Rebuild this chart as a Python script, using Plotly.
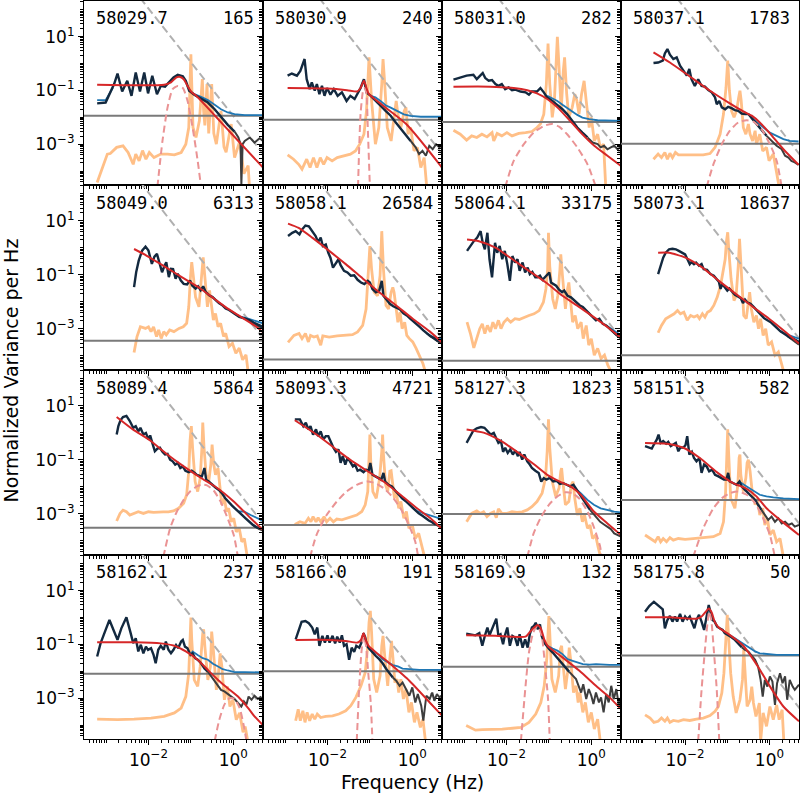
import plotly.graph_objects as go

# ---------------- data (log10 frequency [Hz], log10 normalized power) ----------------
LABEL_MJD = ["58029.7", "58030.9", "58031.0", "58037.1", "58049.0", "58058.1", "58064.1", "58073.1",
             "58089.4", "58093.3", "58127.3", "58151.3", "58162.1", "58166.0", "58169.9", "58175.8"]
LABEL_N = ["165", "240", "282", "1783", "6313", "26584", "33175", "18637",
           "5864", "4721", "1823", "582", "237", "191", "132", "50"]

NOISE_LOG = [-1.94, -2.09, -2.17, -2.98, -3.44, -4.13, -4.18, -3.97,
             -3.51, -3.41, -3.00, -2.48, -2.09, -2.00, -1.83, -1.41]

REF_LOGF = [-3.6, 0.8]
REF_LOGP = [5.25, -3.55]

NAVY = [
    [(-3.21,-1.48),(-3.01,-1.45),(-2.81,-0.76),(-2.73,-0.37),(-2.62,-1.04),(-2.50,-0.64),(-2.40,-1.20),(-2.30,-0.33),(-2.20,-1.04),(-2.10,-0.33),(-2.01,-1.11),(-1.91,-0.45),(-1.80,-1.14),(-1.71,-0.83),(-1.61,-0.86),(-1.51,-0.70),(-1.41,-0.52),(-1.31,-0.42),(-1.19,-0.47),(-1.12,-0.64),(-1.04,-1.01),(-0.92,-1.16),(-0.76,-1.29),(-0.60,-1.45),(-0.44,-1.70),(-0.29,-2.0),(-0.13,-2.28),(0.03,-2.53)],
    [(-2.94,-0.45),(-2.84,-0.37),(-2.72,-0.45),(-2.64,-0.27),(-2.54,0.17),(-2.49,-0.58),(-2.42,-0.95),(-2.37,-0.70),(-2.30,-1.01),(-2.25,-0.76),(-2.19,-1.14),(-2.13,-0.83),(-2.07,-1.20),(-2.01,-0.91),(-1.93,-1.16),(-1.85,-0.95),(-1.76,-1.20),(-1.66,-1.07),(-1.55,-1.39),(-1.46,-1.20),(-1.36,-1.32),(-1.28,-1.07),(-1.22,-0.91),(-1.14,-0.58),(-1.08,-1.07),(-0.98,-1.20),(-0.87,-1.39),(-0.75,-1.57),(-0.63,-1.76),(-0.51,-1.94),(-0.39,-2.19),(-0.27,-2.44),(-0.16,-2.63),(-0.04,-2.88)],
    [(-3.25,-0.60),(-3.09,-0.52),(-2.94,-0.45),(-2.78,-0.42),(-2.70,-0.58),(-2.62,-0.45),(-2.56,-0.35),(-2.50,-0.54),(-2.42,-0.64),(-2.34,-0.61),(-2.26,-0.76),(-2.19,-0.83),(-2.11,-0.76),(-2.03,-0.95),(-1.95,-0.89),(-1.87,-0.99),(-1.79,-0.97),(-1.67,-1.04),(-1.55,-1.07),(-1.47,-1.16),(-1.40,-1.04),(-1.28,-1.04),(-1.20,-0.91),(-1.12,-1.07),(-1.04,-1.26),(-0.92,-1.39),(-0.80,-1.53),(-0.68,-1.70),(-0.57,-1.88),(-0.45,-2.13),(-0.33,-2.38),(-0.21,-2.57),(-0.09,-2.75)],
    [(-2.75,0.02),(-2.64,0.04),(-2.53,0.11),(-2.48,0.38),(-2.42,0.54),(-2.36,0.33),(-2.28,0.17),(-2.20,0.23),(-2.12,-0.08),(-2.04,-0.27),(-1.96,-0.45),(-1.90,-0.20),(-1.85,-0.58),(-1.77,-0.83),(-1.69,-0.58),(-1.61,-0.83),(-1.53,-0.86),(-1.45,-0.99),(-1.37,-1.07),(-1.29,-1.26),(-1.25,-1.51),(-1.19,-1.39),(-1.13,-1.63),(-1.05,-1.70),(-0.98,-1.61),(-0.90,-1.66),(-0.82,-1.73),(-0.74,-1.76),(-0.66,-1.86),(-0.58,-1.88),(-0.50,-1.88),(-0.42,-2.03),(-0.31,-2.23),(-0.19,-2.44),(-0.07,-2.69)],
    [(-2.34,-1.45),(-2.29,-0.90),(-2.23,-0.47),(-2.15,-0.10),(-2.07,0.05),(-2.00,-0.10),(-1.92,-0.59),(-1.86,-0.32),(-1.80,-0.22),(-1.73,-0.59),(-1.68,-0.90),(-1.62,-0.65),(-1.58,-0.53),(-1.52,-1.08),(-1.47,-0.77),(-1.42,-0.78),(-1.36,-1.14),(-1.31,-0.96),(-1.24,-1.20),(-1.17,-1.33),(-1.09,-1.35),(-1.02,-1.20),(-0.97,-1.39),(-0.89,-1.51),(-0.83,-1.42),(-0.77,-1.57),(-0.71,-1.42),(-0.65,-1.63),(-0.57,-1.75),(-0.49,-1.82),(-0.42,-1.94),(-0.34,-2.04),(-0.26,-2.12),(-0.18,-2.24),(-0.10,-2.30),(0.02,-2.43),(0.14,-2.55),(0.26,-2.61),(0.38,-2.67),(0.49,-2.77),(0.61,-2.86),(0.70,-2.92)],
    [(-2.93,0.44),(-2.83,0.56),(-2.75,0.62),(-2.66,0.50),(-2.60,0.68),(-2.52,0.83),(-2.44,0.80),(-2.36,0.62),(-2.28,0.44),(-2.22,0.22),(-2.16,0.38),(-2.11,0.07),(-2.04,0.13),(-1.98,-0.18),(-1.93,-0.36),(-1.87,-0.73),(-1.81,-0.60),(-1.74,-0.42),(-1.69,-0.64),(-1.61,-0.85),(-1.53,-0.91),(-1.45,-1.03),(-1.37,-1.01),(-1.29,-1.18),(-1.21,-1.28),(-1.13,-1.34),(-1.05,-1.22),(-1.00,-1.28),(-0.94,-1.52),(-0.86,-1.64),(-0.78,-1.58),(-0.72,-1.22),(-0.68,-1.77),(-0.60,-1.95),(-0.53,-2.07),(-0.45,-2.16),(-0.37,-2.23),(-0.29,-2.28),(-0.21,-2.42),(-0.13,-2.50),(-0.05,-2.62),(0.03,-2.72),(0.11,-2.84),(0.18,-2.93),(0.26,-3.05),(0.34,-3.17),(0.42,-3.26),(0.50,-3.33),(0.58,-3.42),(0.70,-3.48)],
    [(-2.93,-0.11),(-2.85,0.07),(-2.77,0.25),(-2.69,0.38),(-2.61,0.62),(-2.56,0.19),(-2.51,-0.05),(-2.45,0.56),(-2.40,-0.42),(-2.34,-1.09),(-2.27,0.19),(-2.22,-0.18),(-2.16,0.07),(-2.10,-0.42),(-2.04,-0.11),(-1.98,-0.60),(-1.92,-1.22),(-1.86,-0.30),(-1.80,-0.54),(-1.74,-0.42),(-1.69,-0.85),(-1.62,-0.54),(-1.56,-0.91),(-1.50,-0.73),(-1.45,-0.97),(-1.39,-0.89),(-1.32,-1.09),(-1.27,-1.09),(-1.21,-1.03),(-1.15,-1.18),(-1.09,-1.09),(-1.03,-0.97),(-0.99,-0.91),(-0.95,-1.28),(-0.90,-1.34),(-0.83,-1.40),(-0.76,-1.55),(-0.69,-1.64),(-0.64,-1.58),(-0.56,-1.77),(-0.48,-1.83),(-0.40,-1.95),(-0.32,-2.07),(-0.27,-2.13),(-0.20,-2.19),(-0.12,-2.32),(-0.04,-2.44),(0.03,-2.56),(0.11,-2.68),(0.19,-2.62),(0.27,-2.81),(0.35,-2.87),(0.43,-2.99),(0.51,-3.11),(0.59,-3.21),(0.70,-3.30)],
    [(-2.64,-0.97),(-2.58,-0.66),(-2.52,-0.36),(-2.46,-0.18),(-2.38,-0.05),(-2.30,-0.03),(-2.22,-0.05),(-2.15,-0.11),(-2.07,-0.18),(-2.00,-0.24),(-1.95,-0.40),(-1.89,-0.60),(-1.85,-0.52),(-1.79,-0.60),(-1.74,-0.54),(-1.67,-0.66),(-1.61,-0.60),(-1.56,-0.79),(-1.48,-0.81),(-1.40,-0.97),(-1.32,-1.03),(-1.26,-1.15),(-1.20,-1.25),(-1.16,-1.52),(-1.12,-1.34),(-1.06,-1.46),(-1.00,-1.58),(-0.95,-1.50),(-0.88,-1.64),(-0.82,-1.74),(-0.76,-1.79),(-0.68,-1.86),(-0.63,-2.04),(-0.58,-1.91),(-0.53,-2.01),(-0.45,-2.07),(-0.37,-2.19),(-0.29,-2.32),(-0.21,-2.44),(-0.13,-2.60),(-0.05,-2.68),(0.03,-2.75),(0.11,-2.87),(0.19,-2.99),(0.26,-3.09),(0.34,-3.17),(0.42,-3.26),(0.50,-3.33),(0.58,-3.38),(0.70,-3.48)],
    [(-2.75,-0.06),(-2.71,0.25),(-2.66,0.47),(-2.60,0.59),(-2.52,0.63),(-2.44,0.44),(-2.36,0.19),(-2.30,0.25),(-2.24,0.06),(-2.19,0.19),(-2.12,-0.06),(-2.06,0.0),(-2.00,-0.24),(-1.96,-0.09),(-1.91,-0.37),(-1.85,-0.68),(-1.79,-0.58),(-1.73,-0.55),(-1.67,-0.70),(-1.61,-0.80),(-1.55,-0.78),(-1.49,-0.99),(-1.43,-1.05),(-1.37,-1.17),(-1.31,-1.11),(-1.25,-1.30),(-1.19,-1.24),(-1.13,-1.40),(-1.05,-1.45),(-0.98,-1.40),(-0.91,-1.48),(-0.86,-1.55),(-0.79,-1.59),(-0.74,-1.61),(-0.68,-1.30),(-0.64,-1.73),(-0.58,-1.80),(-0.50,-1.92),(-0.42,-2.02),(-0.34,-2.11),(-0.27,-2.23),(-0.19,-2.42),(-0.11,-2.57),(-0.03,-2.69),(0.05,-2.81),(0.13,-2.91),(0.21,-3.04),(0.29,-3.16),(0.37,-3.29),(0.45,-3.39),(0.52,-3.47),(0.60,-3.53)],
    [(-2.77,0.50),(-2.65,0.50),(-2.57,0.25),(-2.51,0.38),(-2.45,0.13),(-2.40,0.25),(-2.34,-0.06),(-2.27,0.13),(-2.22,-0.12),(-2.16,0.06),(-2.10,-0.24),(-2.04,-0.12),(-1.98,-0.12),(-1.92,-0.37),(-1.86,-0.55),(-1.80,-0.70),(-1.74,-0.61),(-1.69,-1.11),(-1.64,-0.86),(-1.58,-1.17),(-1.53,-0.93),(-1.47,-1.05),(-1.40,-1.24),(-1.35,-1.17),(-1.29,-1.40),(-1.23,-1.36),(-1.15,-1.45),(-1.09,-1.36),(-1.03,-1.40),(-0.99,-1.11),(-0.94,-1.55),(-0.87,-1.61),(-0.79,-1.67),(-0.73,-1.73),(-0.68,-1.48),(-0.64,-1.80),(-0.56,-1.92),(-0.48,-1.98),(-0.40,-2.14),(-0.32,-2.29),(-0.24,-2.42),(-0.16,-2.52),(-0.08,-2.64),(0.00,-2.76),(0.07,-2.89),(0.15,-2.98),(0.23,-3.06),(0.31,-3.16),(0.39,-3.24),(0.47,-3.31),(0.55,-3.39)],
    [(-2.94,-0.37),(-2.86,-0.12),(-2.78,0.09),(-2.70,0.17),(-2.60,0.22),(-2.52,0.19),(-2.45,0.07),(-2.37,-0.06),(-2.30,0.0),(-2.24,-0.20),(-2.19,-0.37),(-2.13,-0.30),(-2.08,-0.70),(-2.03,-0.55),(-1.97,-0.74),(-1.91,-0.61),(-1.85,-0.80),(-1.79,-0.65),(-1.73,-0.86),(-1.69,-0.70),(-1.63,-0.99),(-1.58,-0.80),(-1.51,-1.05),(-1.45,-1.17),(-1.40,-1.30),(-1.32,-1.40),(-1.24,-1.48),(-1.18,-1.80),(-1.12,-1.67),(-1.06,-1.73),(-0.98,-1.67),(-0.90,-1.80),(-0.82,-1.77),(-0.74,-1.89),(-0.66,-1.86),(-0.58,-1.92),(-0.50,-1.98),(-0.42,-1.92),(-0.34,-2.11),(-0.27,-2.29),(-0.19,-2.48),(-0.11,-2.66),(-0.03,-2.85)],
    [(-2.95,-0.49),(-2.87,-0.53),(-2.79,-0.58),(-2.74,-0.43),(-2.67,-0.24),(-2.63,-0.06),(-2.58,-0.37),(-2.52,-0.30),(-2.45,-0.40),(-2.40,-0.33),(-2.34,-0.49),(-2.28,-0.43),(-2.22,-0.37),(-2.16,-0.68),(-2.11,-0.53),(-2.04,-0.55),(-1.99,-0.45),(-1.95,-0.12),(-1.90,-0.80),(-1.84,-0.70),(-1.79,-0.93),(-1.73,-1.05),(-1.66,-0.93),(-1.61,-1.48),(-1.55,-1.17),(-1.49,-1.24),(-1.43,-1.42),(-1.36,-1.36),(-1.29,-1.55),(-1.21,-1.61),(-1.13,-1.67),(-1.08,-1.73),(-1.02,-1.73),(-0.98,-1.48),(-0.94,-1.80),(-0.86,-1.86),(-0.78,-1.92),(-0.71,-1.80),(-0.66,-1.98),(-0.58,-2.11),(-0.50,-2.23),(-0.42,-2.35),(-0.34,-2.48),(-0.27,-2.66),(-0.19,-2.85)],
    [(-3.21,-1.45),(-3.13,-0.96),(-3.01,-0.46),(-2.92,-0.09),(-2.81,-0.52),(-2.73,-0.83),(-2.64,-0.40),(-2.52,0.01),(-2.42,-0.58),(-2.36,-0.95),(-2.30,-0.77),(-2.24,-1.26),(-2.18,-1.01),(-2.12,-1.33),(-2.06,-1.08),(-2.01,-1.20),(-1.94,-1.14),(-1.88,-1.39),(-1.83,-1.70),(-1.77,-1.20),(-1.71,-1.05),(-1.64,-1.20),(-1.59,-0.89),(-1.53,-1.20),(-1.47,-1.33),(-1.41,-1.20),(-1.35,-1.02),(-1.30,-1.14),(-1.23,-0.89),(-1.19,-0.83),(-1.14,-1.08),(-1.08,-1.14),(-1.01,-1.39),(-0.96,-1.33),(-0.90,-1.51),(-0.84,-1.57),(-0.76,-1.70),(-0.68,-1.89),(-0.60,-2.01)],
    [(-2.75,-0.81),(-2.67,-0.44),(-2.61,-0.16),(-2.52,-0.13),(-2.44,-0.21),(-2.36,-0.37),(-2.30,-0.62),(-2.24,-0.37),(-2.19,-1.05),(-2.12,-0.68),(-2.06,-0.93),(-2.00,-0.66),(-1.95,-0.93),(-1.88,-0.68),(-1.82,-0.96),(-1.77,-0.71),(-1.71,-0.93),(-1.66,-0.66),(-1.61,-1.05),(-1.55,-0.99),(-1.49,-1.57),(-1.43,-1.12),(-1.37,-1.28),(-1.32,-1.05),(-1.25,-1.12),(-1.20,-0.93),(-1.15,-0.58),(-1.11,-0.74),(-1.07,-1.05),(-1.02,-1.15),(-0.94,-1.30),(-0.86,-1.43),(-0.78,-1.55),(-0.70,-1.70),(-0.62,-1.90),(-0.54,-2.07),(-0.46,-2.23)],
    [(-2.95,-0.60),(-2.85,-0.62),(-2.73,-0.66),(-2.64,-0.58),(-2.57,-1.05),(-2.51,-0.68),(-2.45,-0.37),(-2.40,-0.66),(-2.34,-0.44),(-2.28,-0.25),(-2.24,-0.04),(-2.19,-0.68),(-2.14,-0.62),(-2.08,-0.99),(-2.04,-0.68),(-1.98,-0.37),(-1.92,-1.05),(-1.86,-0.68),(-1.80,-0.74),(-1.74,-1.05),(-1.69,-0.62),(-1.62,-1.12),(-1.56,-0.81),(-1.50,-1.12),(-1.45,-0.62),(-1.40,-0.37),(-1.35,-0.31),(-1.31,-0.19),(-1.26,-0.44),(-1.21,-0.25),(-1.17,-0.68),(-1.11,-0.93),(-1.06,-1.05),(-0.99,-1.18),(-0.91,-1.30),(-0.83,-1.45),(-0.76,-1.55),(-0.68,-1.70),(-0.60,-1.86),(-0.52,-2.02)],
    [(-2.95,0.22),(-2.85,0.43),(-2.74,0.59),(-2.64,0.47),(-2.53,0.31),(-2.48,-0.40),(-2.42,-0.09),(-2.36,0.06),(-2.30,-0.15),(-2.24,0.04),(-2.19,-0.15),(-2.12,0.14),(-2.06,-0.15),(-2.00,0.04),(-1.95,-0.06),(-1.89,0.04),(-1.83,-0.21),(-1.78,-0.40),(-1.73,-0.09),(-1.67,0.10),(-1.61,-0.15),(-1.55,-0.46),(-1.49,0.04),(-1.44,0.47),(-1.40,0.22),(-1.35,-0.09),(-1.30,-0.15),(-1.24,-0.34),(-1.18,-0.40),(-1.11,-0.46),(-1.06,-0.58),(-0.98,-0.65),(-0.90,-0.73),(-0.82,-0.83),(-0.74,-0.96),(-0.66,-1.10)],
]

GREY = [
    [(0.03,-2.53),(0.12,-2.75),(0.17,-3.0),(0.19,-4.5),(0.22,-3.0),(0.27,-2.88),(0.39,-2.75),(0.50,-2.94),(0.62,-2.78),(0.70,-2.88)],
    [(-0.04,-2.88),(0.08,-3.12),(0.16,-3.37),(0.24,-3.25),(0.32,-3.43),(0.40,-3.06),(0.48,-3.19),(0.56,-3.0),(0.64,-3.12),(0.70,-3.02)],
    [(-0.09,-2.75),(0.03,-2.94),(0.15,-3.0),(0.22,-3.12),(0.30,-3.06),(0.38,-3.19),(0.46,-3.12),(0.54,-3.06),(0.62,-3.19),(0.70,-3.10)],
    [(-0.07,-2.69),(0.05,-2.88),(0.17,-3.06),(0.29,-3.19),(0.37,-3.43),(0.45,-3.50),(0.52,-3.62),(0.60,-3.68),(0.69,-3.77)],
    [(0.26,-2.61),(0.38,-2.70),(0.49,-2.82),(0.61,-2.90),(0.70,-2.98)],
    [(0.42,-3.26),(0.50,-3.36),(0.60,-3.46),(0.70,-3.54)],
    [(0.43,-2.99),(0.51,-3.12),(0.60,-3.24),(0.70,-3.36)],
    [(0.42,-3.26),(0.50,-3.36),(0.60,-3.46),(0.70,-3.58)],
    [(0.45,-3.39),(0.52,-3.48),(0.60,-3.55),(0.70,-3.62)],
    [(0.47,-3.31),(0.55,-3.39),(0.63,-3.47),(0.70,-3.53)],
    [(-0.03,-2.85),(0.05,-3.01),(0.13,-3.16),(0.21,-3.29),(0.30,-3.39),(0.38,-3.47),(0.46,-3.56),(0.54,-3.72),(0.62,-3.78),(0.70,-3.84)],
    [(-0.19,-2.85),(-0.11,-3.04),(-0.03,-3.22),(0.05,-3.10),(0.13,-3.29),(0.21,-3.16),(0.29,-3.35),(0.37,-3.29),(0.45,-3.41),(0.53,-3.35),(0.60,-3.47),(0.70,-3.41)],
    [(-0.60,-2.01),(-0.52,-2.19),(-0.44,-2.38),(-0.36,-2.56),(-0.29,-2.69),(-0.21,-2.75),(-0.13,-2.84),(-0.05,-2.94),(0.03,-3.03),(0.11,-3.18),(0.19,-3.31),(0.25,-3.12),(0.31,-3.24),(0.36,-2.94),(0.43,-3.06),(0.50,-2.91),(0.58,-3.03),(0.64,-2.96),(0.71,-3.06)],
    [(-0.46,-2.23),(-0.38,-2.35),(-0.30,-2.54),(-0.23,-2.42),(-0.15,-2.66),(-0.07,-2.91),(0.00,-2.60),(0.07,-3.16),(0.13,-2.85),(0.21,-3.28),(0.26,-3.84),(0.33,-2.91),(0.41,-3.03),(0.47,-2.79),(0.52,-3.10),(0.58,-2.85),(0.64,-2.97),(0.70,-2.89)],
    [(-0.52,-2.02),(-0.44,-2.17),(-0.36,-2.29),(-0.30,-2.54),(-0.24,-2.79),(-0.19,-2.48),(-0.12,-3.03),(-0.06,-2.66),(0.00,-2.91),(0.05,-3.22),(0.11,-2.79),(0.18,-3.16),(0.23,-2.97),(0.29,-3.53),(0.35,-2.85),(0.41,-3.16),(0.47,-2.54),(0.53,-3.03),(0.59,-2.66),(0.65,-3.28),(0.70,-2.97)],
    [(-0.66,-1.10),(-0.58,-1.20),(-0.50,-1.26),(-0.42,-1.43),(-0.34,-1.57),(-0.27,-1.82),(-0.21,-2.32),(-0.16,-2.94),(-0.11,-2.32),(-0.05,-2.57),(0.01,-2.19),(0.07,-2.38),(0.13,-3.25),(0.18,-2.44),(0.25,-2.07),(0.31,-2.44),(0.37,-2.19),(0.42,-3.06),(0.48,-2.32),(0.55,-2.57),(0.60,-2.69),(0.70,-2.50)],
]

BLUE = [
    [(-3.21,-1.36),(-3.01,-1.36),(-2.84,-0.9),None,(-1.04,-1.0),(-0.92,-1.14),(-0.76,-1.24),(-0.60,-1.36),(-0.44,-1.53),(-0.29,-1.70),(-0.13,-1.82),(0.03,-1.88),(0.27,-1.92),(0.70,-1.92)],
    [(-0.98,-1.20),(-0.87,-1.26),(-0.75,-1.39),(-0.63,-1.55),(-0.51,-1.64),(-0.35,-1.76),(-0.20,-1.89),(-0.04,-1.95),(0.20,-1.98),(0.70,-1.98)],
    [(-1.04,-1.20),(-0.92,-1.29),(-0.80,-1.39),(-0.68,-1.53),(-0.57,-1.66),(-0.45,-1.80),(-0.33,-1.91),(-0.21,-2.01),(-0.05,-2.07),(0.15,-2.11),(0.70,-2.13)],
    [(-0.42,-2.03),(-0.31,-2.16),(-0.15,-2.35),(0.01,-2.57),(0.17,-2.69),(0.33,-2.81),(0.48,-2.88),(0.69,-2.90)],
    [(0.02,-2.43),(0.14,-2.53),(0.33,-2.61),(0.49,-2.70),(0.70,-2.79)],
    [(0.34,-3.17),(0.49,-3.30),(0.70,-3.38)],
    [(0.35,-2.87),(0.51,-3.05),(0.70,-3.24)],
    [(0.26,-3.09),(0.42,-3.21),(0.70,-3.36)],
    [(0.13,-2.91),(0.25,-2.91),(0.41,-3.04),(0.57,-3.16),(0.70,-3.26)],
    [(0.00,-2.76),(0.11,-2.89),(0.27,-2.98),(0.43,-3.06),(0.59,-3.14),(0.70,-3.19)],
    [(-0.34,-2.11),(-0.25,-2.23),(-0.09,-2.48),(0.06,-2.66),(0.22,-2.79),(0.38,-2.85),(0.54,-2.91),(0.70,-2.94)],
    [(-0.78,-1.92),(-0.70,-1.82),(-0.54,-1.98),(-0.38,-2.14),(-0.23,-2.29),(-0.07,-2.35),(0.09,-2.39),(0.33,-2.42),(0.70,-2.45)],
    [(-1.01,-1.39),(-0.96,-1.26),(-0.84,-1.39),(-0.72,-1.51),(-0.60,-1.57),(-0.48,-1.72),(-0.36,-1.82),(-0.25,-1.92),(-0.13,-1.97),(0.03,-2.03),(0.27,-2.03),(0.71,-2.04)],
    [(-1.02,-1.15),(-0.94,-1.24),(-0.82,-1.36),(-0.70,-1.55),(-0.58,-1.65),(-0.46,-1.77),(-0.34,-1.82),(-0.23,-1.90),(-0.07,-1.92),(0.17,-1.95),(0.70,-1.95)],
    [(-1.06,-1.05),(-1.03,-1.05),(-0.91,-1.15),(-0.79,-1.24),(-0.68,-1.36),(-0.56,-1.55),(-0.44,-1.61),(-0.32,-1.67),(-0.20,-1.73),(-0.04,-1.75),(0.11,-1.73),(0.43,-1.76),(0.70,-1.76)],
    [(-0.98,-0.65),(-0.94,-0.65),(-0.82,-0.77),(-0.70,-0.89),(-0.58,-1.02),(-0.46,-1.14),(-0.34,-1.26),(-0.23,-1.33),(-0.07,-1.36),(0.17,-1.39),(0.70,-1.39)],
]

RED = [
    [(-3.21,-0.79),(-1.63,-0.79),(-1.47,-0.70),(-1.35,-0.52),(-1.27,-0.49),(-1.17,-0.58),(-1.08,-0.83),(-0.98,-1.07),(-0.88,-1.19),(-0.10,-2.51),(0.70,-3.87)],
    [(-2.94,-0.91),(-2.01,-0.93),(-1.54,-0.99),(-1.30,-1.04),(-1.22,-0.91),(-1.14,-0.64),(-1.08,-0.91),(-1.02,-1.14),(-0.15,-2.24),(0.70,-3.87)],
    [(-3.25,-0.86),(-2.38,-0.86),(-1.83,-0.91),(-1.51,-0.99),(-1.28,-1.11),(-1.04,-1.32),(-0.80,-1.63),(-0.57,-2.01),(-0.25,-2.57),(0.07,-3.06),(0.38,-3.43),(0.70,-3.81)],
    [(-2.75,0.42),(-2.36,0.04),(-1.88,-0.49),(-1.41,-1.01),(-0.94,-1.48),(-0.62,-1.78),(-0.42,-1.94),(-0.23,-2.19),(0.01,-2.60),(0.33,-3.19),(0.69,-3.77)],
    [(-2.34,-0.04),(-2.04,-0.29),(-1.72,-0.59),(-1.40,-0.90),(-1.09,-1.20),(-0.77,-1.51),(-0.45,-1.88),(-0.14,-2.24),(0.18,-2.55),(0.49,-2.86),(0.70,-3.12)],
    [(-2.93,0.90),(-2.68,0.74),(-2.36,0.38),(-1.96,-0.11),(-1.57,-0.60),(-1.17,-1.13),(-0.78,-1.64),(-0.38,-2.13),(0.01,-2.62),(0.41,-3.09),(0.70,-3.50)],
    [(-2.93,0.31),(-2.65,0.25),(-2.26,0.01),(-1.86,-0.42),(-1.47,-0.85),(-1.07,-1.28),(-0.68,-1.77),(-0.28,-2.19),(0.11,-2.62),(0.43,-2.99),(0.70,-3.33)],
    [(-2.64,-0.18),(-2.38,-0.18),(-1.99,-0.36),(-1.59,-0.73),(-1.20,-1.22),(-0.80,-1.70),(-0.41,-2.16),(-0.01,-2.62),(0.38,-3.11),(0.70,-3.54)],
    [(-2.75,0.59),(-2.36,0.12),(-1.96,-0.28),(-1.57,-0.78),(-1.17,-1.24),(-0.78,-1.65),(-0.38,-2.04),(0.01,-2.54),(0.41,-3.16),(0.70,-3.60)],
    [(-2.77,0.47),(-2.26,-0.06),(-1.86,-0.53),(-1.47,-0.99),(-1.07,-1.40),(-0.68,-1.80),(-0.28,-2.29),(0.11,-2.79),(0.43,-3.16),(0.70,-3.56)],
    [(-2.94,0.13),(-2.54,0.01),(-2.15,-0.28),(-1.75,-0.70),(-1.36,-1.15),(-1.04,-1.55),(-0.72,-1.82),(-0.49,-1.98),(-0.25,-2.29),(0.06,-2.91),(0.38,-3.35),(0.70,-3.78)],
    [(-2.95,-0.37),(-2.44,-0.40),(-2.04,-0.55),(-1.65,-0.93),(-1.25,-1.45),(-0.86,-1.86),(-0.54,-2.07),(-0.31,-2.35),(-0.07,-2.79),(0.25,-3.22),(0.70,-3.78)],
    [(-3.21,-0.92),(-2.34,-0.92),(-1.71,-0.96),(-1.39,-1.05),(-1.12,-1.26),(-0.84,-1.57),(-0.60,-1.95),(-0.36,-2.32),(-0.13,-2.63),(0.11,-2.94),(0.35,-3.37),(0.50,-3.68),(0.71,-4.02)],
    [(-2.75,-0.83),(-1.96,-0.83),(-1.57,-0.87),(-1.29,-0.93),(-1.21,-0.83),(-1.15,-0.58),(-1.09,-0.87),(-1.03,-1.05),(-0.54,-1.70),(-0.07,-2.35),(0.41,-3.16),(0.70,-3.65)],
    [(-2.95,-0.66),(-2.26,-0.68),(-1.55,-0.71),(-1.47,-0.58),(-1.35,-0.37),(-1.27,-0.28),(-1.19,-0.40),(-1.11,-0.81),(-1.03,-1.05),(-0.68,-1.48),(-0.28,-1.98),(0.11,-2.54),(0.43,-2.97),(0.70,-3.41)],
    [(-2.95,0.01),(-2.36,0.01),(-1.73,-0.04),(-1.61,0.04),(-1.51,0.22),(-1.44,0.34),(-1.37,0.19),(-1.30,-0.15),(-1.21,-0.36),(-0.94,-0.65),(-0.62,-1.05),(-0.30,-1.76),(0.01,-2.56),(0.33,-3.31),(0.70,-3.86)],
]

DASH = [
    [(-1.79,-4.6),(-1.67,-2.88),(-1.55,-1.63),(-1.43,-0.95),(-1.31,-0.83),(-1.19,-0.91),(-1.08,-1.38),(-0.96,-2.38),(-0.84,-3.62),(-0.76,-4.6)],
    [(-1.28,-4.6),(-1.22,-1.88),(-1.16,-1.01),(-1.12,-0.91),(-1.08,-1.14),(-1.05,-2.38),(-1.00,-4.6)],
    [(-2.03,-4.6),(-1.83,-3.62),(-1.59,-3.0),(-1.36,-2.57),(-1.12,-2.32),(-0.92,-2.25),(-0.76,-2.35),(-0.57,-2.63),(-0.33,-3.12),(-0.09,-3.75),(0.11,-4.6)],
    [(-1.49,-4.6),(-1.33,-3.75),(-1.13,-3.0),(-0.94,-2.50),(-0.74,-2.19),(-0.54,-2.11),(-0.38,-2.16),(-0.19,-2.44),(0.01,-3.0),(0.17,-3.62),(0.29,-4.6)],
    [], [], [], [],
    [(-1.65,-4.6),(-1.49,-3.53),(-1.33,-2.91),(-1.17,-2.48),(-1.02,-2.17),(-0.86,-1.98),(-0.74,-1.92),(-0.62,-1.94),(-0.46,-2.14),(-0.30,-2.54),(-0.15,-3.10),(0.01,-3.78),(0.11,-4.6)],
    [(-2.41,-4.6),(-2.26,-3.78),(-2.02,-3.04),(-1.78,-2.54),(-1.55,-2.17),(-1.31,-1.92),(-1.07,-1.80),(-0.87,-1.86),(-0.68,-2.04),(-0.48,-2.35),(-0.28,-2.79),(-0.08,-3.41),(0.07,-4.03),(0.14,-4.6)],
    [(-1.51,-4.6),(-1.36,-3.72),(-1.20,-3.16),(-1.00,-2.66),(-0.80,-2.35),(-0.61,-2.20),(-0.45,-2.23),(-0.29,-2.42),(-0.09,-2.91),(0.07,-3.53),(0.21,-4.22),(0.24,-4.6)],
    [(-1.81,-4.6),(-1.57,-3.53),(-1.33,-2.79),(-1.13,-2.42),(-0.94,-2.23),(-0.74,-2.17),(-0.54,-2.29),(-0.34,-2.60),(-0.15,-3.16),(0.01,-3.78),(0.13,-4.6)],
    [(-0.44,-4.6),(-0.33,-3.80),(-0.21,-3.24),(-0.09,-3.0),(0.03,-3.03),(0.15,-3.37),(0.25,-4.05),(0.31,-4.6)],
    [(-1.31,-4.6),(-1.25,-2.54),(-1.20,-1.30),(-1.15,-0.68),(-1.09,-1.05),(-1.04,-2.04),(-0.98,-3.16),(-0.94,-4.6)],
    [(-1.66,-4.6),(-1.55,-2.54),(-1.47,-1.30),(-1.37,-0.56),(-1.27,-0.31),(-1.17,-0.68),(-1.09,-1.80),(-1.02,-3.03),(-0.98,-4.6)],
    [(-1.69,-4.6),(-1.61,-2.69),(-1.53,-1.20),(-1.47,-0.21),(-1.43,0.22),(-1.38,-0.09),(-1.32,-1.20),(-1.25,-2.69),(-1.19,-4.6)],
]

ORANGE = [
    [(-3.21,-4.43),(-2.97,-3.37),(-2.90,-3.35),(-2.75,-3.12),(-2.60,-3.06),(-2.48,-3.31),(-2.36,-3.75),(-2.30,-3.37),(-2.22,-3.62),(-2.14,-3.24),(-2.06,-3.56),(-1.98,-3.31),(-1.87,-3.50),(-1.71,-3.37),(-1.55,-3.37),(-1.39,-3.40),(-1.23,-3.31),(-1.12,-3.0),(-1.05,-2.38),(-1.00,0.35),(-0.95,-2.38),(-0.88,-2.75),(-0.80,-2.13),(-0.76,-1.01),(-0.73,-0.58),(-0.70,-1.76),(-0.67,-2.3),(-0.62,-0.76),(-0.58,-2.6),(-0.51,-0.76),(-0.46,-2.6),(-0.40,-3.0),(-0.29,-1.76),(-0.22,-3.1),(-0.17,-3.3),(-0.05,-2.25),(0.03,-3.5),(0.15,-2.9),(0.25,-4.1),(0.35,-3.8),(0.38,-4.6)],
    [(-2.94,-3.40),(-2.80,-3.56),(-2.68,-3.75),(-2.60,-3.93),(-2.49,-3.56),(-2.41,-3.87),(-2.33,-3.50),(-2.25,-3.87),(-2.17,-3.50),(-2.09,-3.75),(-2.01,-3.50),(-1.89,-3.62),(-1.77,-3.50),(-1.62,-3.43),(-1.46,-3.37),(-1.34,-3.25),(-1.24,-3.0),(-1.14,-2.63),(-1.08,-1.76),(-1.02,0.23),(-0.96,-1.39),(-0.87,-3.0),(-0.79,-2.38),(-0.72,-0.76),(-0.69,0.17),(-0.65,-0.76),(-0.59,-2.38),(-0.50,-2.88),(-0.42,-1.76),(-0.38,-1.39),(-0.34,-1.88),(-0.27,-2.38),(-0.19,-1.76),(-0.15,-1.63),(-0.10,-2.63),(-0.04,-2.38),(0.04,-3.25),(0.12,-3.12),(0.20,-3.87),(0.28,-3.50),(0.34,-4.6)],
    [(-3.25,-2.48),(-3.09,-2.63),(-2.94,-2.85),(-2.82,-2.69),(-2.70,-2.75),(-2.58,-2.63),(-2.46,-2.73),(-2.34,-2.57),(-2.30,-2.88),(-2.22,-2.60),(-2.11,-2.69),(-1.99,-2.57),(-1.87,-2.69),(-1.71,-2.60),(-1.55,-2.57),(-1.40,-2.53),(-1.28,-2.38),(-1.20,-2.25),(-1.12,-1.88),(-1.06,-0.76),(-1.02,0.75),(-0.98,-0.76),(-0.92,-2.0),(-0.87,-1.39),(-0.83,-0.02),(-0.80,1.0),(-0.76,-0.14),(-0.71,-1.76),(-0.66,-0.27),(-0.63,0.23),(-0.58,-1.14),(-0.53,-2.0),(-0.45,-1.63),(-0.39,-1.14),(-0.34,-1.39),(-0.29,-1.88),(-0.23,-1.14),(-0.17,-0.64),(-0.12,-1.39),(-0.05,-2.38),(0.00,-2.0),(0.07,-2.88),(0.15,-2.63),(0.21,-3.12),(0.29,-3.0),(0.34,-4.6)],
    [(-2.75,-3.56),(-2.64,-3.37),(-2.56,-3.50),(-2.48,-3.31),(-2.42,-3.56),(-2.36,-3.34),(-2.30,-3.50),(-2.23,-3.31),(-2.16,-3.40),(-2.04,-3.40),(-1.88,-3.40),(-1.73,-3.40),(-1.57,-3.40),(-1.41,-3.35),(-1.29,-3.12),(-1.17,-2.63),(-1.09,-1.88),(-1.03,-0.89),(-0.99,0.11),(-0.95,-1.01),(-0.90,-1.76),(-0.84,-2.0),(-0.78,-1.76),(-0.73,-1.26),(-0.70,-1.01),(-0.67,-1.39),(-0.62,-2.38),(-0.56,-2.63),(-0.50,-2.25),(-0.46,-2.63),(-0.40,-2.88),(-0.34,-2.50),(-0.31,-3.0),(-0.23,-2.63),(-0.16,-3.25),(-0.07,-3.12),(-0.01,-3.62),(0.09,-3.37),(0.17,-4.12),(0.23,-4.6)],
    [(-2.34,-3.87),(-2.27,-3.28),(-2.19,-2.92),(-2.07,-2.98),(-2.00,-2.92),(-1.94,-3.10),(-1.88,-2.92),(-1.81,-3.28),(-1.76,-3.04),(-1.70,-3.35),(-1.64,-3.10),(-1.58,-3.22),(-1.50,-3.04),(-1.40,-3.10),(-1.28,-2.98),(-1.18,-2.92),(-1.10,-2.79),(-1.05,-2.18),(-1.01,-1.08),(-0.98,-0.53),(-0.94,-1.08),(-0.89,-1.82),(-0.81,-2.18),(-0.75,-1.20),(-0.71,-0.35),(-0.67,-1.08),(-0.61,-2.18),(-0.56,-1.57),(-0.52,-2.18),(-0.47,-2.67),(-0.42,-2.43),(-0.36,-2.92),(-0.30,-2.79),(-0.23,-3.28),(-0.18,-3.16),(-0.10,-3.65),(-0.02,-3.53),(0.06,-3.90),(0.14,-3.71),(0.22,-4.14),(0.30,-3.96),(0.35,-4.6)],
    [(-2.93,-3.50),(-2.79,-3.24),(-2.67,-3.17),(-2.60,-3.36),(-2.52,-3.17),(-2.45,-3.48),(-2.40,-3.24),(-2.32,-3.30),(-2.24,-3.26),(-2.16,-3.60),(-2.11,-3.26),(-1.96,-3.30),(-1.77,-3.26),(-1.57,-3.24),(-1.41,-3.21),(-1.29,-3.11),(-1.17,-2.87),(-1.09,-2.26),(-1.04,-1.03),(-1.00,0.07),(-0.96,-0.79),(-0.90,-1.64),(-0.82,-1.77),(-0.76,-1.03),(-0.72,0.62),(-0.68,-0.79),(-0.62,-2.13),(-0.56,-2.26),(-0.50,-1.64),(-0.46,-1.46),(-0.43,-1.64),(-0.38,-2.38),(-0.34,-2.75),(-0.29,-2.38),(-0.24,-2.99),(-0.18,-2.75),(-0.13,-3.24),(-0.07,-3.36),(0.01,-3.48),(0.09,-3.72),(0.17,-3.97),(0.25,-4.28),(0.31,-4.6)],
    [(-2.93,-2.75),(-2.85,-3.17),(-2.77,-3.70),(-2.71,-3.42),(-2.63,-2.99),(-2.57,-2.81),(-2.51,-3.17),(-2.45,-2.87),(-2.38,-3.11),(-2.32,-2.75),(-2.26,-2.99),(-2.19,-2.68),(-2.13,-2.99),(-2.06,-2.75),(-1.98,-2.62),(-1.90,-2.75),(-1.80,-2.62),(-1.70,-2.65),(-1.58,-2.56),(-1.47,-2.50),(-1.35,-2.44),(-1.23,-2.32),(-1.13,-2.01),(-1.07,-1.52),(-1.03,-0.79),(-1.01,0.56),(-0.98,-0.67),(-0.91,-1.89),(-0.85,-2.26),(-0.79,-1.77),(-0.74,-0.79),(-0.72,-0.24),(-0.68,-1.03),(-0.61,-2.26),(-0.56,-1.52),(-0.53,-1.28),(-0.50,-1.77),(-0.44,-2.75),(-0.38,-2.50),(-0.32,-2.99),(-0.24,-2.75),(-0.19,-3.36),(-0.12,-2.87),(-0.06,-3.60),(0.00,-3.36),(0.07,-3.97),(0.15,-3.72),(0.23,-4.09),(0.31,-3.97),(0.39,-4.34),(0.47,-4.6)],
    [(-2.64,-3.14),(-2.56,-2.87),(-2.46,-2.62),(-2.34,-2.50),(-2.26,-2.44),(-2.18,-2.32),(-2.11,-2.44),(-2.03,-2.38),(-1.95,-2.68),(-1.87,-2.50),(-1.79,-2.56),(-1.71,-2.50),(-1.66,-2.62),(-1.59,-2.44),(-1.53,-2.56),(-1.47,-2.38),(-1.40,-2.32),(-1.32,-2.13),(-1.24,-1.83),(-1.16,-1.40),(-1.10,-0.91),(-1.05,-0.42),(-1.02,0.25),(-0.99,0.58),(-0.96,-0.18),(-0.91,-1.15),(-0.84,-1.95),(-0.79,-1.77),(-0.74,-0.66),(-0.71,0.34),(-0.67,-0.79),(-0.61,-2.50),(-0.55,-2.62),(-0.50,-1.89),(-0.47,-1.64),(-0.43,-2.26),(-0.37,-2.75),(-0.31,-2.50),(-0.26,-2.99),(-0.21,-2.62),(-0.15,-3.24),(-0.09,-2.99),(-0.03,-3.60),(0.05,-3.48),(0.13,-3.97),(0.21,-3.85),(0.29,-4.28),(0.34,-4.6)],
    [(-2.75,-3.26),(-2.67,-2.98),(-2.60,-2.86),(-2.52,-2.92),(-2.44,-3.04),(-2.36,-2.98),(-2.24,-2.92),(-2.12,-2.98),(-2.00,-2.92),(-1.88,-2.94),(-1.77,-2.92),(-1.65,-2.92),(-1.53,-2.92),(-1.41,-2.89),(-1.29,-2.79),(-1.17,-2.60),(-1.10,-2.29),(-1.05,-1.42),(-1.02,-0.30),(-0.99,0.25),(-0.96,-0.55),(-0.90,-1.80),(-0.84,-2.17),(-0.78,-1.67),(-0.74,-0.55),(-0.72,0.38),(-0.69,-0.55),(-0.64,-1.55),(-0.58,-1.80),(-0.53,-1.17),(-0.50,-0.43),(-0.46,-1.17),(-0.42,-1.55),(-0.38,-1.42),(-0.36,-1.30),(-0.32,-1.92),(-0.27,-2.66),(-0.21,-2.42),(-0.16,-2.91),(-0.11,-2.79),(-0.05,-3.29),(0.01,-3.16),(0.07,-3.66),(0.14,-3.53),(0.20,-4.03),(0.26,-3.91),(0.33,-4.6)],
    [(-2.77,-3.39),(-2.65,-3.29),(-2.53,-3.35),(-2.45,-3.16),(-2.39,-3.29),(-2.34,-3.10),(-2.27,-3.29),(-2.22,-3.14),(-2.16,-3.29),(-2.08,-3.10),(-2.02,-3.29),(-1.94,-3.16),(-1.86,-3.29),(-1.78,-3.19),(-1.66,-3.22),(-1.55,-3.16),(-1.43,-3.10),(-1.31,-3.04),(-1.19,-2.91),(-1.11,-2.66),(-1.05,-2.17),(-1.02,-1.17),(-1.00,-0.06),(-0.98,-1.05),(-0.93,-2.17),(-0.85,-2.42),(-0.77,-1.67),(-0.72,-0.68),(-0.70,-0.06),(-0.68,-0.80),(-0.63,-1.92),(-0.58,-2.17),(-0.53,-1.42),(-0.50,-1.40),(-0.47,-1.80),(-0.42,-2.42),(-0.38,-2.17),(-0.32,-2.79),(-0.27,-2.54),(-0.20,-3.16),(-0.14,-2.91),(-0.08,-3.53),(0.00,-3.41),(0.07,-3.91),(0.15,-3.72),(0.23,-4.16),(0.29,-4.6)],
    [(-2.94,-3.29),(-2.82,-2.98),(-2.70,-2.89),(-2.62,-2.98),(-2.54,-2.92),(-2.46,-3.10),(-2.38,-2.98),(-2.30,-2.92),(-2.24,-3.14),(-2.19,-2.81),(-2.11,-2.98),(-1.99,-2.98),(-1.87,-2.92),(-1.75,-2.94),(-1.63,-2.92),(-1.51,-2.85),(-1.40,-2.73),(-1.28,-2.54),(-1.16,-2.23),(-1.08,-1.67),(-1.04,-0.68),(-1.01,0.50),(-0.98,-0.55),(-0.92,-1.80),(-0.84,-2.35),(-0.76,-2.04),(-0.72,-1.42),(-0.70,-1.30),(-0.67,-1.80),(-0.61,-2.66),(-0.53,-2.54),(-0.47,-1.92),(-0.43,-1.80),(-0.39,-2.42),(-0.33,-3.04),(-0.27,-2.79),(-0.21,-3.29),(-0.16,-3.04),(-0.09,-3.53),(-0.03,-3.41),(0.03,-3.91),(0.10,-3.78),(0.16,-4.22),(0.22,-4.6)],
    [(-2.95,-3.78),(-2.83,-3.91),(-2.71,-4.03),(-2.64,-3.84),(-2.58,-4.03),(-2.52,-3.91),(-2.44,-4.03),(-2.36,-3.88),(-2.28,-3.97),(-2.16,-3.91),(-2.00,-3.94),(-1.81,-3.91),(-1.57,-3.88),(-1.33,-3.84),(-1.17,-3.72),(-1.09,-3.29),(-1.04,-2.17),(-1.01,-0.68),(-0.99,0.13),(-0.97,-0.68),(-0.92,-2.42),(-0.82,-2.79),(-0.75,-1.92),(-0.72,-0.93),(-0.70,-0.80),(-0.68,-1.55),(-0.62,-2.17),(-0.56,-1.67),(-0.53,-1.11),(-0.50,-0.99),(-0.46,-1.42),(-0.41,-2.17),(-0.34,-2.66),(-0.29,-2.42),(-0.23,-3.04),(-0.16,-2.79),(-0.11,-3.41),(-0.05,-3.16),(0.01,-3.78),(0.09,-3.60),(0.17,-4.03),(0.25,-3.91),(0.33,-4.6)],
    [(-3.21,-3.78),(-2.73,-3.80),(-2.34,-3.78),(-1.94,-3.74),(-1.63,-3.68),(-1.39,-3.55),(-1.23,-3.37),(-1.12,-2.94),(-1.05,-2.07),(-1.02,-0.83),(-1.00,0.0),(-0.98,-0.83),(-0.92,-2.32),(-0.84,-2.56),(-0.78,-1.82),(-0.72,-0.58),(-0.70,-0.44),(-0.67,-1.08),(-0.60,-2.32),(-0.54,-1.82),(-0.51,-0.52),(-0.47,-1.20),(-0.40,-2.69),(-0.35,-2.07),(-0.31,-1.33),(-0.27,-1.82),(-0.21,-3.06),(-0.14,-2.56),(-0.08,-3.31),(-0.01,-3.06),(0.07,-3.80),(0.15,-3.55),(0.23,-4.27),(0.28,-4.05),(0.34,-4.6)],
    [(-2.75,-3.84),(-2.69,-3.41),(-2.64,-3.84),(-2.58,-3.47),(-2.53,-3.90),(-2.48,-3.53),(-2.42,-3.84),(-2.36,-3.59),(-2.30,-3.78),(-2.24,-3.59),(-2.16,-3.72),(-2.04,-3.68),(-1.88,-3.66),(-1.73,-3.59),(-1.57,-3.47),(-1.45,-3.28),(-1.33,-2.97),(-1.21,-2.54),(-1.11,-2.04),(-1.05,-1.05),(-1.02,-0.19),(-0.99,0.25),(-0.96,-0.56),(-0.91,-2.29),(-0.84,-2.79),(-0.76,-2.17),(-0.72,-1.05),(-0.69,-0.68),(-0.65,-1.43),(-0.58,-2.54),(-0.53,-1.55),(-0.49,-0.87),(-0.46,-1.43),(-0.41,-2.42),(-0.36,-2.29),(-0.32,-2.79),(-0.27,-2.29),(-0.21,-3.03),(-0.15,-2.66),(-0.08,-3.53),(-0.02,-3.16),(0.05,-3.90),(0.11,-3.53),(0.19,-4.09),(0.25,-3.78),(0.31,-4.6)],
    [(-2.95,-4.02),(-2.85,-4.09),(-2.73,-4.19),(-2.57,-4.17),(-2.34,-4.17),(-2.10,-4.15),(-1.86,-4.12),(-1.66,-4.09),(-1.47,-3.90),(-1.31,-3.59),(-1.19,-3.16),(-1.11,-2.54),(-1.05,-1.55),(-1.02,-0.31),(-1.00,0.06),(-0.98,-0.56),(-0.93,-2.29),(-0.85,-2.79),(-0.77,-2.17),(-0.73,-1.18),(-0.70,-1.05),(-0.67,-1.67),(-0.61,-2.66),(-0.56,-2.04),(-0.52,-1.12),(-0.48,-1.67),(-0.42,-2.79),(-0.36,-2.54),(-0.31,-3.16),(-0.27,-2.79),(-0.20,-3.53),(-0.14,-3.16),(-0.07,-3.90),(0.00,-3.53),(0.07,-4.15),(0.15,-3.78),(0.21,-4.6)],
    [(-2.95,-3.62),(-2.83,-3.74),(-2.74,-3.90),(-2.64,-3.86),(-2.56,-3.74),(-2.48,-3.86),(-2.42,-3.74),(-2.36,-3.90),(-2.28,-3.83),(-2.16,-3.86),(-2.04,-3.80),(-1.89,-3.83),(-1.73,-3.78),(-1.57,-3.74),(-1.41,-3.65),(-1.29,-3.49),(-1.21,-3.31),(-1.13,-2.81),(-1.08,-2.07),(-1.03,-0.83),(-1.00,0.10),(-0.97,-0.71),(-0.92,-2.07),(-0.86,-2.94),(-0.79,-3.55),(-0.70,-3.06),(-0.64,-2.32),(-0.61,-1.20),(-0.57,-2.19),(-0.53,-3.31),(-0.46,-3.06),(-0.42,-2.57),(-0.38,-3.18),(-0.32,-3.68),(-0.24,-3.18),(-0.21,-4.6),(-0.15,-3.55),(-0.07,-4.05),(0.01,-3.31),(0.09,-3.80),(0.17,-3.25),(0.23,-3.80),(0.30,-3.43),(0.34,-4.6)],
]

# ---------------- styling / layout ----------------
COL_PX = [84, 263, 442, 621, 799]
ROW_PX = [1, 185, 370, 555, 739]
W, H = 800, 803
X_RANGE = [-3.52, 0.70]
Y_RANGE = [-4.52, 2.33]

C_NAVY = "#13293f"
C_BLUE = "#1f77b4"
C_GREY = "#3d3d3d"
C_RED = "#d62728"
C_DASH = "#ea9394"
C_REF = "#b0b0b0"
C_NOISE = "#7a7a7a"
C_ORANGE = "#ffbf87"


def to_xy(pts):
    xs, ys = [], []
    for p in pts:
        if p is None:
            xs.append(None)
            ys.append(None)
        else:
            xs.append(10 ** p[0])
            ys.append(10 ** p[1])
    return xs, ys


fig = go.Figure()

y_minor = [k * 10.0 ** n for n in range(-5, 3) for k in range(1, 10)
           if not (k == 1 and n in (1, -1, -3))]
x_minor = [k * 10.0 ** n for n in range(-4, 1) for k in range(1, 10)
           if not (k == 1 and n in (-2, 0))]

annotations = []
for i in range(16):
    r, c = divmod(i, 4)
    k = i + 1
    xa = "x" if k == 1 else f"x{k}"
    ya = "y" if k == 1 else f"y{k}"

    def add(pts, color, width, dash=None, shape="linear"):
        xs, ys = to_xy(pts)
        fig.add_trace(go.Scatter(x=xs, y=ys, xaxis=xa, yaxis=ya, mode="lines",
                                 line=dict(color=color, width=width, dash=dash, shape=shape,
                                           smoothing=0.6 if shape == "spline" else None),
                                 hoverinfo="skip", showlegend=False, connectgaps=False))

    add(ORANGE[i], C_ORANGE, 2.8)
    add(list(zip(REF_LOGF, REF_LOGP)), C_REF, 2.0, dash="8px,4px")
    add([(REF_LOGF[0], NOISE_LOG[i]), (REF_LOGF[1], NOISE_LOG[i])], C_NOISE, 2.0)
    add(BLUE[i], C_BLUE, 1.8)
    add(GREY[i], C_GREY, 2.0)
    add(NAVY[i], C_NAVY, 2.4)
    if DASH[i]:
        add(DASH[i], C_DASH, 2.0, dash="7px,4px", shape="spline")
    add(RED[i], C_RED, 2.0, shape="spline")

    xdom = [COL_PX[c] / W, COL_PX[c + 1] / W]
    ydom = [1 - ROW_PX[r + 1] / H, 1 - ROW_PX[r] / H]
    common = dict(type="log", showgrid=False, zeroline=False, showline=True, mirror=True,
                  linecolor="black", linewidth=1.2, ticks="outside", ticklen=5, tickwidth=1.1,
                  tickcolor="black", tickfont=dict(family="DejaVu Sans", size=17, color="black"))
    fig.layout[f"xaxis{'' if k == 1 else k}"] = dict(
        common, domain=xdom, anchor=ya, range=X_RANGE,
        tickvals=[1e-2, 1], ticktext=["10<sup>−2</sup>", "10<sup>0</sup>"],
        showticklabels=(r == 3),
        minor=dict(tickvals=x_minor, ticks="outside", ticklen=3, tickwidth=0.8, tickcolor="black"))
    fig.layout[f"yaxis{'' if k == 1 else k}"] = dict(
        common, domain=ydom, anchor=xa, range=Y_RANGE,
        tickvals=[10, 0.1, 0.001], ticktext=["10<sup>1</sup>", "10<sup>−1</sup>", "10<sup>−3</sup>"],
        showticklabels=(c == 0),
        minor=dict(tickvals=y_minor, ticks="outside", ticklen=3, tickwidth=0.8, tickcolor="black"))

    annotations.append(dict(text=LABEL_MJD[i], xref=f"{xa} domain", yref=f"{ya} domain",
                            x=0.055, y=0.905, xanchor="left", yanchor="middle", showarrow=False,
                            font=dict(family="DejaVu Sans Mono", size=17, color="black")))
    annotations.append(dict(text=LABEL_N[i], xref=f"{xa} domain", yref=f"{ya} domain",
                            x=0.962, y=0.905, xanchor="right", yanchor="middle", showarrow=False,
                            font=dict(family="DejaVu Sans Mono", size=17, color="black")))

annotations.append(dict(text="Frequency (Hz)", xref="paper", yref="paper", x=0.516, y=0.026,
                        xanchor="center", yanchor="middle", showarrow=False,
                        font=dict(family="DejaVu Sans", size=19, color="black")))
annotations.append(dict(text="Normalized Variance per Hz", xref="paper", yref="paper", x=0.014,
                        y=0.539, xanchor="center", yanchor="middle", textangle=-90, showarrow=False,
                        font=dict(family="DejaVu Sans", size=19, color="black")))

fig.update_layout(width=W, height=H, margin=dict(l=0, r=0, t=0, b=0),
                  paper_bgcolor="white", plot_bgcolor="white", annotations=annotations,
                  showlegend=False)

fig.write_html("out.html", config={"displayModeBar": False},
               post_script="document.body.style.margin='0';")
